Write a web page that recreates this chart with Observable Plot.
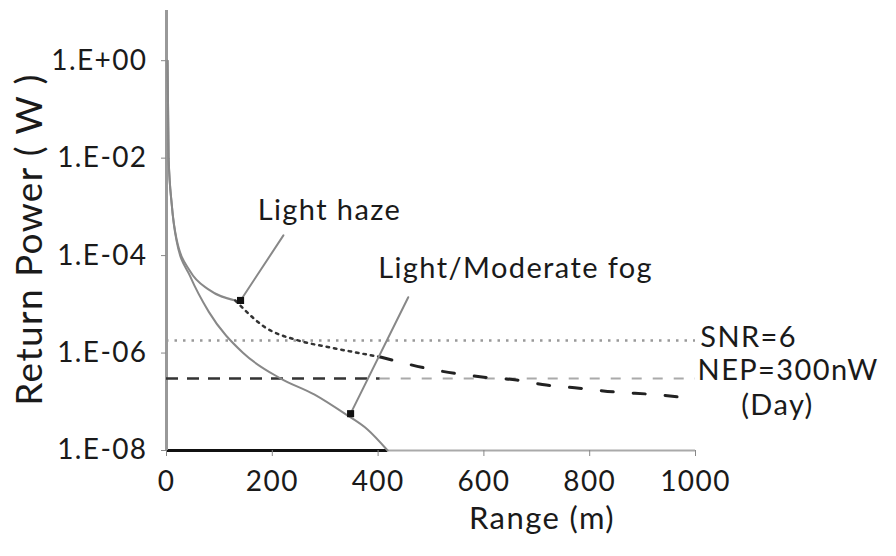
<!DOCTYPE html>
<html>
<head>
<meta charset="utf-8">
<script src="https://cdn.jsdelivr.net/npm/d3@7"></script>
<script src="https://cdn.jsdelivr.net/npm/@observablehq/plot@0.6"></script>
<style>
  html, body { margin: 0; padding: 0; background: #fff; }
  #chart svg { display: block; }
</style>
</head>
<body>
<div id="chart"></div>
<script>
// Light haze curve (range m, return power W)
const hazeRange = [2, 4, 10, 19, 45, 80, 130, 186, 250, 310, 404, 498, 600, 662, 718, 780, 844, 925, 1000];
const hazePower = [1.0, 1e-2, 1.1e-3, 2.2e-4, 4.7e-5, 2.0e-5, 1.2e-5, 3.4e-6, 1.8e-6, 1.3e-6, 8.3e-7, 4.7e-7, 3.2e-7, 2.8e-7, 2.2e-7, 1.9e-7, 1.6e-7, 1.4e-7, 1.15e-7];
// Light/Moderate fog curve
const fogRange = [2, 4, 10, 19, 45, 80, 145, 216, 280, 337, 380, 418];
const fogPower = [1.0, 1e-2, 1.1e-3, 2.0e-4, 3.7e-5, 7e-6, 1.0e-6, 3.0e-7, 1.4e-7, 5.7e-8, 2.7e-8, 1e-8];
// Threshold levels
const snrLevel = 1.8e-6;
const nepLevel = 3e-7;
// Axis ticks
const xTicks = [0, 200, 400, 600, 800, 1000];
const yTicks = [1, 1e-2, 1e-4, 1e-6, 1e-8];
const yTickLabels = ["1.E+00", "1.E-02", "1.E-04", "1.E-06", "1.E-08"];
// Annotations
const annoText = ["Light haze", "Light/Moderate fog"];
const annoX = [308, 660];
const annoY = [8.3e-4, 5.4e-5];
const arrowFromX = [221, 457];
const arrowFromY = [2.6e-4, 1.4e-5];
const arrowToX = [140, 348];
const arrowToY = [1.2e-5, 5.7e-8];
const snrText = "SNR=6", nepText = "NEP=300nW", dayText = "(Day)";
const snrTextX = 1009, nepTextX = 1004, dayTextX = 1155, dayTextY = 8.3e-8;

const haze = hazeRange.map((x, i) => ({x, y: hazePower[i]}));
const fog = fogRange.map((x, i) => ({x, y: fogPower[i]}));
const annos = annoText.map((t, i) => ({t, x: annoX[i], y: annoY[i]}));
const arrows = arrowFromX.map((x1, i) => ({x1, y1: arrowFromY[i], x2: arrowToX[i], y2: arrowToY[i]}));
const fogEnd = fogRange[fogRange.length - 1];
const split1 = 130, split2 = 404;

const font = "Lato, 'Open Sans', sans-serif";
const ink = "#1a1a1a";

const chart = Plot.plot({
  width: 896,
  height: 556,
  marginLeft: 166,
  marginRight: 201,
  marginTop: 10,
  marginBottom: 106,
  style: {fontFamily: font, color: ink, background: "#fff", overflow: "visible", letterSpacing: "1.4px"},
  x: {domain: [0, 1000]},
  y: {type: "log", domain: [1e-8, Math.pow(10, 1.03)]},
  marks: [
    // axes lines
    Plot.ruleY([1e-8], {x1: 0, x2: 1000, stroke: "#aaa", strokeWidth: 2}),
    Plot.ruleY([1e-8], {x1: 0, x2: fogEnd, stroke: "#111", strokeWidth: 3}),
    Plot.ruleX([0], {stroke: "#999", strokeWidth: 3}),
    Plot.axisX({ticks: xTicks, tickSize: 6, tickPadding: 15, fontSize: 28, label: null, tickFormat: d => String(d), stroke: "#888"}),
    Plot.axisY({ticks: yTicks, tickSize: 5, tickPadding: 14, fontSize: 28, label: null,
      tickFormat: d => yTickLabels[yTicks.findIndex(t => Math.abs(Math.log10(t) - Math.log10(d)) < 1e-6)], stroke: "#888"}),
    // threshold lines
    Plot.ruleY([snrLevel], {x1: 0, x2: 1000, stroke: "#999", strokeWidth: 2.5, strokeDasharray: "2.5,6"}),
    Plot.ruleY([nepLevel], {x1: 0, x2: split2, stroke: "#333", strokeWidth: 2.5, strokeDasharray: "12,9"}),
    Plot.ruleY([nepLevel], {x1: split2, x2: 1000, stroke: "#aaa", strokeWidth: 2, strokeDasharray: "10,11"}),
    // curves
    Plot.line(fog, {x: "x", y: "y", stroke: "#888", strokeWidth: 2, curve: "monotone-x"}),
    Plot.line(haze.filter(d => d.x <= split1), {x: "x", y: "y", stroke: "#888", strokeWidth: 2, curve: "monotone-x"}),
    Plot.line(haze.filter(d => d.x >= split1 && d.x <= split2), {x: "x", y: "y", stroke: "#333", strokeWidth: 2.5, strokeDasharray: "2.5,5", curve: "monotone-x"}),
    Plot.line(haze.filter(d => d.x >= split2), {x: "x", y: "y", stroke: "#222", strokeWidth: 3, strokeDasharray: "12,20", curve: "monotone-x"}),
    // arrows
    Plot.arrow(arrows, {x1: "x1", y1: "y1", x2: "x2", y2: "y2", stroke: "#888", strokeWidth: 2, headLength: 0, bend: false}),
    Plot.dot(arrows, {x: "x2", y: "y2", r: 4, fill: "#111", symbol: "square"}),
    // labels
    Plot.text(annos, {x: "x", y: "y", text: "t", fontSize: 29, fill: ink}),
    Plot.text([snrText], {x: snrTextX, y: snrLevel, textAnchor: "start", dy: -3, fontSize: 29, fill: ink}),
    Plot.text([nepText], {x: nepTextX, y: nepLevel, textAnchor: "start", dy: -8, fontSize: 29, fill: ink}),
    Plot.text([dayText], {x: dayTextX, y: dayTextY, textAnchor: "middle", fontSize: 29, fill: ink}),
    Plot.text(["Return Power ( W )"], {frameAnchor: "left", textAnchor: "middle", rotate: -90, dx: -136, dy: 9, fontSize: 37, fill: ink}),
    Plot.text(["Range (m)"], {frameAnchor: "bottom", textAnchor: "middle", dx: 111, dy: 78, fontSize: 31, fill: ink})
  ]
});
document.getElementById("chart").appendChild(chart);
</script>
</body>
</html>
